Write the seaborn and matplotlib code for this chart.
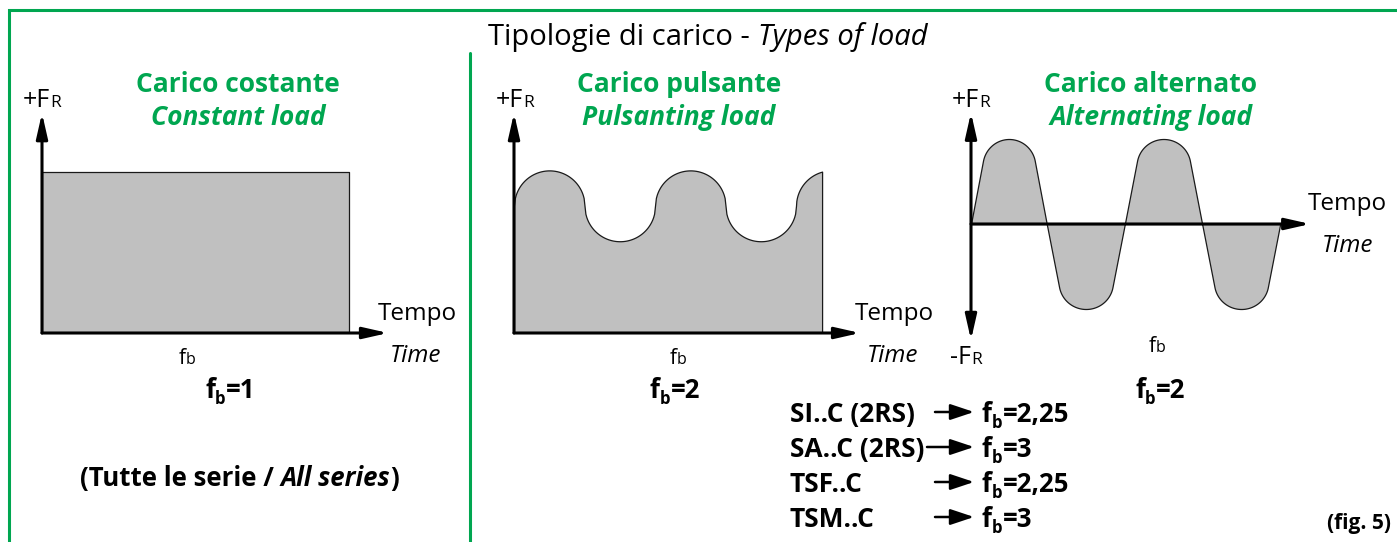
import numpy as np
import matplotlib
matplotlib.use("Agg")
import matplotlib.pyplot as plt
import seaborn as sns

sns.set_theme(style="white")
plt.rcParams["font.family"] = ["Open Sans", "DejaVu Sans"]

W, H = 1397, 542
GREEN = "#00a650"
FILL = "#c0c0c0"
EDGE = "#1a1a1a"

# carico costante: istanti di inizio/fine e livello
const_t = [0.0, 4.0]
const_f = [1.0, 1.0]

# carico pulsante: centri dei semicerchi, verso (+ cresta / - valle), livello medio
puls_centres = [0.5, 1.5, 2.5, 3.5, 4.5]
puls_dirs = [1, -1, 1, -1, 1]
puls_mean = 0.79
puls_amp = 0.22
puls_end = 4.37

# carico alternato: passaggi per lo zero e segno di ogni semionda
alt_zero = [0.0, 0.98, 1.99, 2.99, 4.0]
alt_sign = [1, -1, 1, -1]
alt_peak = 1.0
alt_cap_r = 0.348       # raggio della cresta (in semiperiodi)
alt_side_deg = 11.0     # inclinazione dei fianchi rispetto alla verticale

# tabella fb
series = ["SI..C (2RS)", "SA..C (2RS)", "TSF..C", "TSM..C"]
fb_values = ["2,25", "3", "2,25", "3"]

fig = plt.figure(figsize=(W / 100, H / 100), dpi=100)
bg = fig.add_axes([0, 0, 1, 1])
bg.set_xlim(0, W)
bg.set_ylim(H, 0)
bg.axis("off")

# cornice verde
bg.plot([9, 9, W + 5], [H + 5, 10, 10], color=GREEN, lw=2.2, solid_joinstyle="miter")
bg.plot([470, 470], [53, H + 5], color=GREEN, lw=2.2)


def panel(origin, px_t, px_f, t_max, f_min, f_max):
    x0, y0 = origin
    left = x0 / W
    bottom = (H - y0 + f_min * px_f) / H
    ax = fig.add_axes([left, bottom, t_max * px_t / W, (f_max - f_min) * px_f / H])
    ax.set_xlim(0, t_max)
    ax.set_ylim(f_min, f_max)
    ax.axis("off")
    return ax


def arrow(ax, start, end, style="-|>"):
    ax.annotate("", xy=end, xytext=start, annotation_clip=False,
                arrowprops=dict(arrowstyle=style + ",head_length=0.75,head_width=0.17",
                                mutation_scale=20, lw=2.2, color="black",
                                shrinkA=0, shrinkB=0))


# pannello 1 - costante
ax1 = panel((42, 333), 76.75, 161, 4.51, 0, 1.366)
ax1.fill_between(const_t, 0, const_f, facecolor=FILL, edgecolor=EDGE, lw=0.9)
arrow(ax1, (0, 0), (4.51, 0))
arrow(ax1, (0, 0), (0, 1.366))

# pannello 2 - pulsante
ax2 = panel((514, 333), 70.5, 161, 4.91, 0, 1.366)
tp, fp = [], []
for c, d in zip(puls_centres, puls_dirs):
    t = np.linspace(c - 0.5, min(c + 0.5, puls_end), 80)
    f = puls_mean + d * puls_amp * np.sqrt(np.clip(1 - ((t - c) / 0.5) ** 2, 0, None))
    tp.extend(t)
    fp.extend(f)
ax2.fill_between(tp, 0, fp, facecolor=FILL, edgecolor=EDGE, lw=0.9)
arrow(ax2, (0, 0), (4.91, 0))
arrow(ax2, (0, 0), (0, 1.366))

# pannello 3 - alternato (fianchi rettilinei + cresta circolare tangente)
px_t3, px_f3 = 77.3, 85
ax3 = panel((971, 224), px_t3, px_f3, 4.39, -1.365, 1.31)
r_f = alt_cap_r * px_t3 / px_f3
th = np.radians(alt_side_deg)
a = np.linspace(th, np.pi - th, 80)
ta, fa = [], []
for z0, z1, s in zip(alt_zero[:-1], alt_zero[1:], alt_sign):
    w = z1 - z0
    cap_t = z0 + w * (0.5 - alt_cap_r * np.cos(a))
    cap_f = alt_peak - r_f + r_f * np.sin(a)
    ta.extend([z0, *cap_t, z1])
    fa.extend([0, *(s * cap_f), 0])
ax3.fill_between(ta, 0, fa, facecolor=FILL, edgecolor=EDGE, lw=0.9)
arrow(ax3, (0, 0), (4.39, 0))
arrow(ax3, (0, -1.365), (0, 1.31), style="<|-|>")

renderer = fig.canvas.get_renderer()


def runs(x, y, parts, ha="left", color="black"):
    items, total = [], 0
    for s, size, weight, style, dy in parts:
        t = bg.text(0, 0, s, fontsize=size, fontweight=weight, fontstyle=style,
                    color=color, va="baseline", ha="left")
        w = t.get_window_extent(renderer).width
        items.append((t, w, dy))
        total += w
    pos = x - total / 2 if ha == "center" else x
    for t, w, dy in items:
        t.set_position((pos, y + dy))
        pos += w


def fb_eq(x, y, value, size=18.5):
    runs(x, y, [("f", size, "bold", "normal", 0), ("b", size * 0.65, "bold", "normal", 6),
                ("=" + value, size, "bold", "normal", 0)])


# titolo
runs(708, 45, [("Tipologie di carico - ", 21, "normal", "normal", 0),
               ("Types of load", 21, "normal", "italic", 0)], ha="center")

# titoli verdi
for cx, it, en in [(238, "Carico costante", "Constant load"),
                   (679, "Carico pulsante", "Pulsanting load"),
                   (1151, "Carico alternato", "Alternating load")]:
    runs(cx, 92, [(it, 19, "bold", "normal", 0)], ha="center", color=GREEN)
    runs(cx, 125, [(en, 19, "bold", "italic", 0)], ha="center", color=GREEN)

# etichette assi
for x, y, sign in [(23, 107, "+"), (496, 107, "+"), (952, 107, "+"), (950, 364, "-")]:
    runs(x, y, [(sign + "F", 18, "normal", "normal", 0), ("R", 12.5, "normal", "normal", 0)])

for x1, y1, x2, y2 in [(378, 320, 390, 362), (855, 320, 867, 362), (1308, 210, 1322, 252)]:
    runs(x1, y1, [("Tempo", 17.5, "normal", "normal", 0)])
    runs(x2, y2, [("Time", 17.5, "normal", "italic", 0)])

for x, y in [(179, 364), (670, 364), (1149, 352)]:
    runs(x, y, [("f", 15, "normal", "normal", 0), ("b", 11.5, "normal", "normal", 0)])

fb_eq(205, 398, "1")
fb_eq(650, 398, "2")
fb_eq(1135, 398, "2")

runs(239, 486, [("(Tutte le serie / ", 18.5, "bold", "normal", 0),
                ("All series", 18.5, "bold", "italic", 0),
                (")", 18.5, "bold", "normal", 0)], ha="center")

# tabella serie -> fb
row_y = [422, 457, 492, 527]
arrow_x0 = [935, 927, 935, 935]
for name, val, y, x0 in zip(series, fb_values, row_y, arrow_x0):
    runs(790, y, [(name, 19, "bold", "normal", 0)])
    bg.annotate("", xy=(974, y - 10), xytext=(x0, y - 10),
                arrowprops=dict(arrowstyle="-|>,head_length=0.9,head_width=0.3",
                                mutation_scale=16, lw=1.8, color="black",
                                shrinkA=0, shrinkB=0))
    fb_eq(982, y, val)

runs(1327, 529, [("(fig. 5)", 15, "bold", "normal", 0)])

fig.savefig("out.png", dpi=100)
